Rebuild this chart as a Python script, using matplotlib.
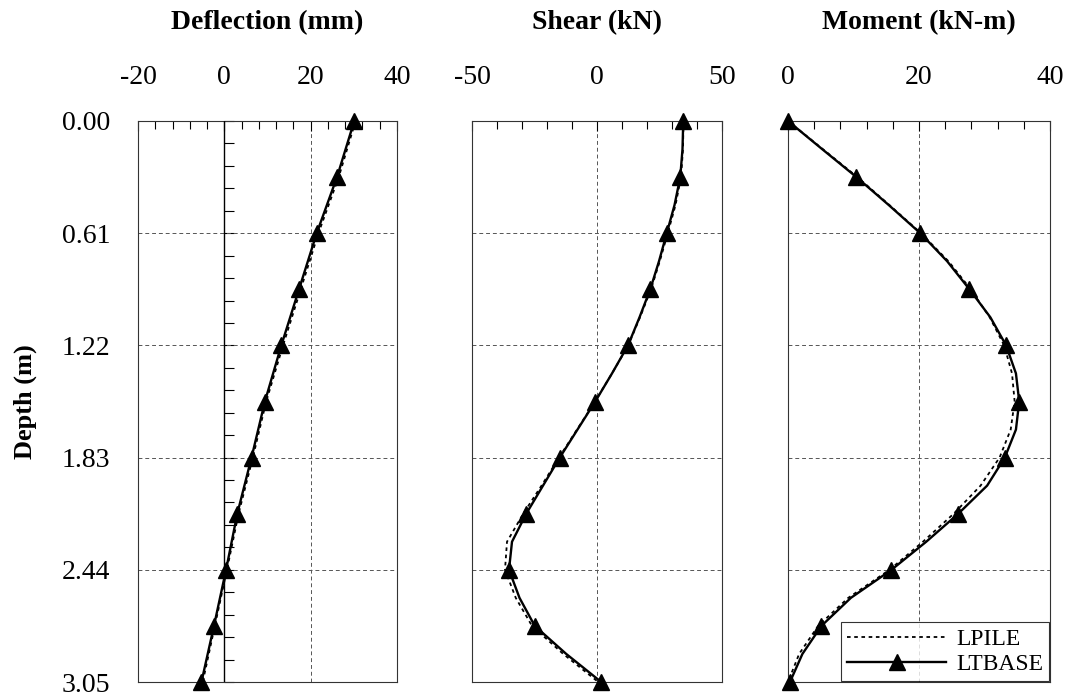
import matplotlib
matplotlib.use("Agg")
import matplotlib.pyplot as plt
from matplotlib.ticker import MultipleLocator, FormatStrFormatter

plt.rcParams['font.family'] = ['Liberation Serif', 'DejaVu Serif']
plt.rcParams['axes.unicode_minus'] = False

# depth of the marked points (m) and of the finer line points
depth_marks = [0.0, 0.305, 0.61, 0.915, 1.22, 1.525, 1.83, 2.135, 2.44, 2.745, 3.05]
depth_fine = [0.0, 0.1525, 0.305, 0.4575, 0.61, 0.7625, 0.915, 1.0675, 1.22, 1.3725,
              1.525, 1.6775, 1.83, 1.9825, 2.135, 2.2875, 2.44, 2.5925, 2.745, 2.8975, 3.05]

# deflection (mm)
defl_ltbase = [30.1, 26.1, 21.4, 17.3, 13.2, 9.4, 6.3, 3.0, 0.4, -2.4, -5.3]
defl_lpile = [30.4, 26.5, 21.8, 17.7, 13.6, 9.7, 6.6, 3.3, 0.6, -2.2, -5.0]

# shear (kN)
shear_ltbase = [34.5, 34.2, 33.3, 31.0, 27.9, 24.8, 21.3, 17.0, 12.4, 6.0, -0.7,
                -7.8, -14.9, -21.6, -28.3, -34.0, -35.2, -31.0, -24.9, -12.3, 1.7]
shear_lpile = [34.6, 34.4, 33.6, 31.4, 28.3, 25.1, 21.6, 17.2, 12.5, 6.0, -0.8,
               -8.0, -15.2, -22.2, -29.5, -36.0, -36.8, -32.5, -26.0, -13.5, 0.5]

# moment (kN-m)
mom_ltbase = [0.0, 5.2, 10.45, 15.4, 20.2, 24.3, 27.7, 30.9, 33.3, 34.8, 35.3,
              34.8, 33.1, 30.4, 26.0, 21.1, 15.8, 9.6, 5.1, 2.2, 0.3]
mom_lpile = [0.0, 5.3, 10.6, 15.5, 20.3, 24.5, 27.9, 30.8, 33.0, 34.2, 34.6,
             34.0, 32.3, 29.4, 25.3, 20.6, 15.5, 9.2, 4.6, 1.7, 0.0]

titles = ["Deflection (mm)", "Shear (kN)", "Moment (kN-m)"]
xlims = [(-20, 40), (-50, 50), (0, 40)]
xmajor = [20, 50, 20]
xminor = [4, 10, 4]
depth_ticks = [0.0, 0.61, 1.22, 1.83, 2.44, 3.05]


def every_other(vals):
    return vals[::2]


fig = plt.figure(figsize=(10.68, 6.97), dpi=100)
boxes = [(138, 259), (472, 250), (788, 262)]
top_px, bot_px = 121, 682
axes = []
for left, width in boxes:
    ax = fig.add_axes([left / 1068, 1 - bot_px / 697, width / 1068, (bot_px - top_px) / 697])
    axes.append(ax)

series = [
    (defl_lpile, defl_ltbase, depth_marks, depth_marks),
    (shear_lpile, shear_ltbase, depth_fine, depth_fine),
    (mom_lpile, mom_ltbase, depth_fine, depth_fine),
]

for i, ax in enumerate(axes):
    lp, lt, d_lp, d_lt = series[i]
    ax.plot(lp, d_lp, color="black", lw=1.3, ls=(0, (2, 2)), label="LPILE")
    ax.plot(lt, d_lt, color="black", lw=1.7, label="_nolegend_")
    if len(lt) == len(depth_marks):
        mx = lt
    else:
        mx = every_other(lt)
    ax.plot(mx, depth_marks, ls="none", marker="^", ms=11, color="black", clip_on=False, zorder=5)

    ax.set_xlim(*xlims[i])
    ax.set_ylim(3.05, 0)
    ax.xaxis.tick_top()
    ax.xaxis.set_major_locator(MultipleLocator(xmajor[i]))
    ax.xaxis.set_minor_locator(MultipleLocator(xminor[i]))
    ax.tick_params(axis="x", which="both", direction="in", top=True, bottom=False,
                   labelsize=20, pad=22)
    ax.tick_params(axis="x", which="major", length=7, width=0.8)
    ax.tick_params(axis="x", which="minor", length=6, width=0.8)
    ax.set_yticks(depth_ticks)
    ax.grid(True, which="major", color="#555555", ls=(0, (4, 3)), lw=0.7)
    for s in ax.spines.values():
        s.set_linewidth(0.8)
        s.set_color("#333333")
    ax.set_title(titles[i], fontsize=20, fontweight="bold", pad=66)
    if i == 0:
        ax.yaxis.set_major_formatter(FormatStrFormatter("%.2f"))
        ax.tick_params(axis="y", length=0, labelsize=20, pad=20)
        ax.set_ylabel("Depth (m)", fontsize=19, fontweight="bold")
        ax.yaxis.set_label_coords(-0.39, 0.5)
        # vertical axis crossing at x = 0
        ax.axvline(0, color="black", lw=1.0, zorder=3)
        sec = ax.secondary_yaxis((0 - xlims[0][0]) / (xlims[0][1] - xlims[0][0]))
        sec.set_yticks(depth_ticks)
        sec.yaxis.set_minor_locator(MultipleLocator(0.122))
        sec.tick_params(axis="y", which="both", direction="in", labelleft=False, length=7, width=0.8)
        sec.spines["left"].set_visible(False)
    else:
        ax.tick_params(axis="y", length=0, labelleft=False)

# legend handles in the moment panel
axes[2].plot([], [], color="black", lw=1.7, marker="^", ms=11, label="LTBASE")
leg = axes[2].legend(loc="lower right", fontsize=17, handlelength=4.2, frameon=True,
                     fancybox=False, borderaxespad=0.05, borderpad=0.25, labelspacing=0.15,
                     handletextpad=0.4)
leg.get_frame().set_edgecolor("black")
leg.get_frame().set_linewidth(0.8)

fig.savefig("out.png", dpi=100)
